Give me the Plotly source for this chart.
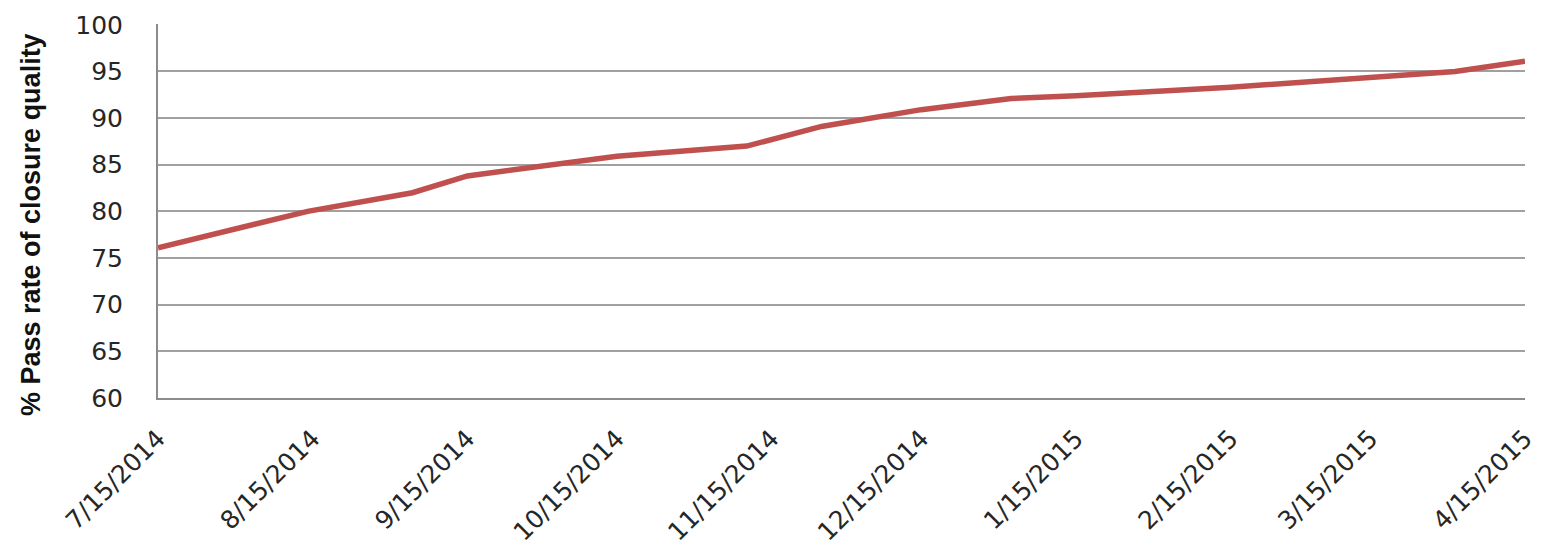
import plotly.graph_objects as go

dates = ["2014-07-15", "2014-08-14", "2014-09-04", "2014-09-15", "2014-10-15",
         "2014-11-10", "2014-11-25", "2014-12-15", "2015-01-02", "2015-01-15",
         "2015-02-15", "2015-03-15", "2015-04-01", "2015-04-15"]
values = [76.1, 80.0, 82.0, 83.8, 85.9, 87.0, 89.1, 90.9, 92.1, 92.4,
          93.3, 94.3, 95.0, 96.1]

tick_dates = ["2014-07-15", "2014-08-15", "2014-09-15", "2014-10-15", "2014-11-15",
              "2014-12-15", "2015-01-15", "2015-02-15", "2015-03-15", "2015-04-15"]
tick_labels = ["7/15/2014", "8/15/2014", "9/15/2014", "10/15/2014", "11/15/2014",
               "12/15/2014", "1/15/2015", "2/15/2015", "3/15/2015", "4/15/2015"]
y_ticks = [60, 65, 70, 75, 80, 85, 90, 95, 100]
y_title = "% Pass rate of closure quality"

fig = go.Figure()
fig.add_trace(go.Scatter(x=dates, y=values, mode="lines",
                         line=dict(color="#C0504D", width=5.5)))

fig.update_layout(
    width=1547, height=553,
    margin=dict(l=150, r=30, t=16, b=163),
    paper_bgcolor="white", plot_bgcolor="white",
    showlegend=False,
    font=dict(family="DejaVu Sans, Verdana, sans-serif", color="#262626"),
)
fig.update_xaxes(
    type="date", range=["2014-07-15", "2015-04-15"], automargin=False,
    tickmode="array", tickvals=tick_dates, ticktext=tick_labels,
    tickangle=-45, tickfont=dict(size=25),
    showgrid=False, showline=True, linecolor="#8c8c8c", linewidth=2,
    ticks="outside", ticklen=14, tickcolor="rgba(0,0,0,0)", zeroline=False,
)
fig.update_yaxes(
    range=[60, 100.08], tickmode="array", tickvals=y_ticks, automargin=False,
    tickfont=dict(size=25), showgrid=True, gridcolor="#a0a0a0", gridwidth=2,
    showline=True, linecolor="#8c8c8c", linewidth=2,
    ticks="outside", ticklen=28, tickcolor="rgba(0,0,0,0)",
    zeroline=False,
)
fig.add_annotation(
    text="<b>" + y_title + "</b>", textangle=-90, showarrow=False,
    xref="paper", yref="paper", x=0, y=0.5, xanchor="center", yanchor="middle",
    xshift=-127, yshift=-14,
    font=dict(size=27, family="Liberation Sans, Arial, sans-serif", color="#111111"),
)
fig.write_html("out.html")
